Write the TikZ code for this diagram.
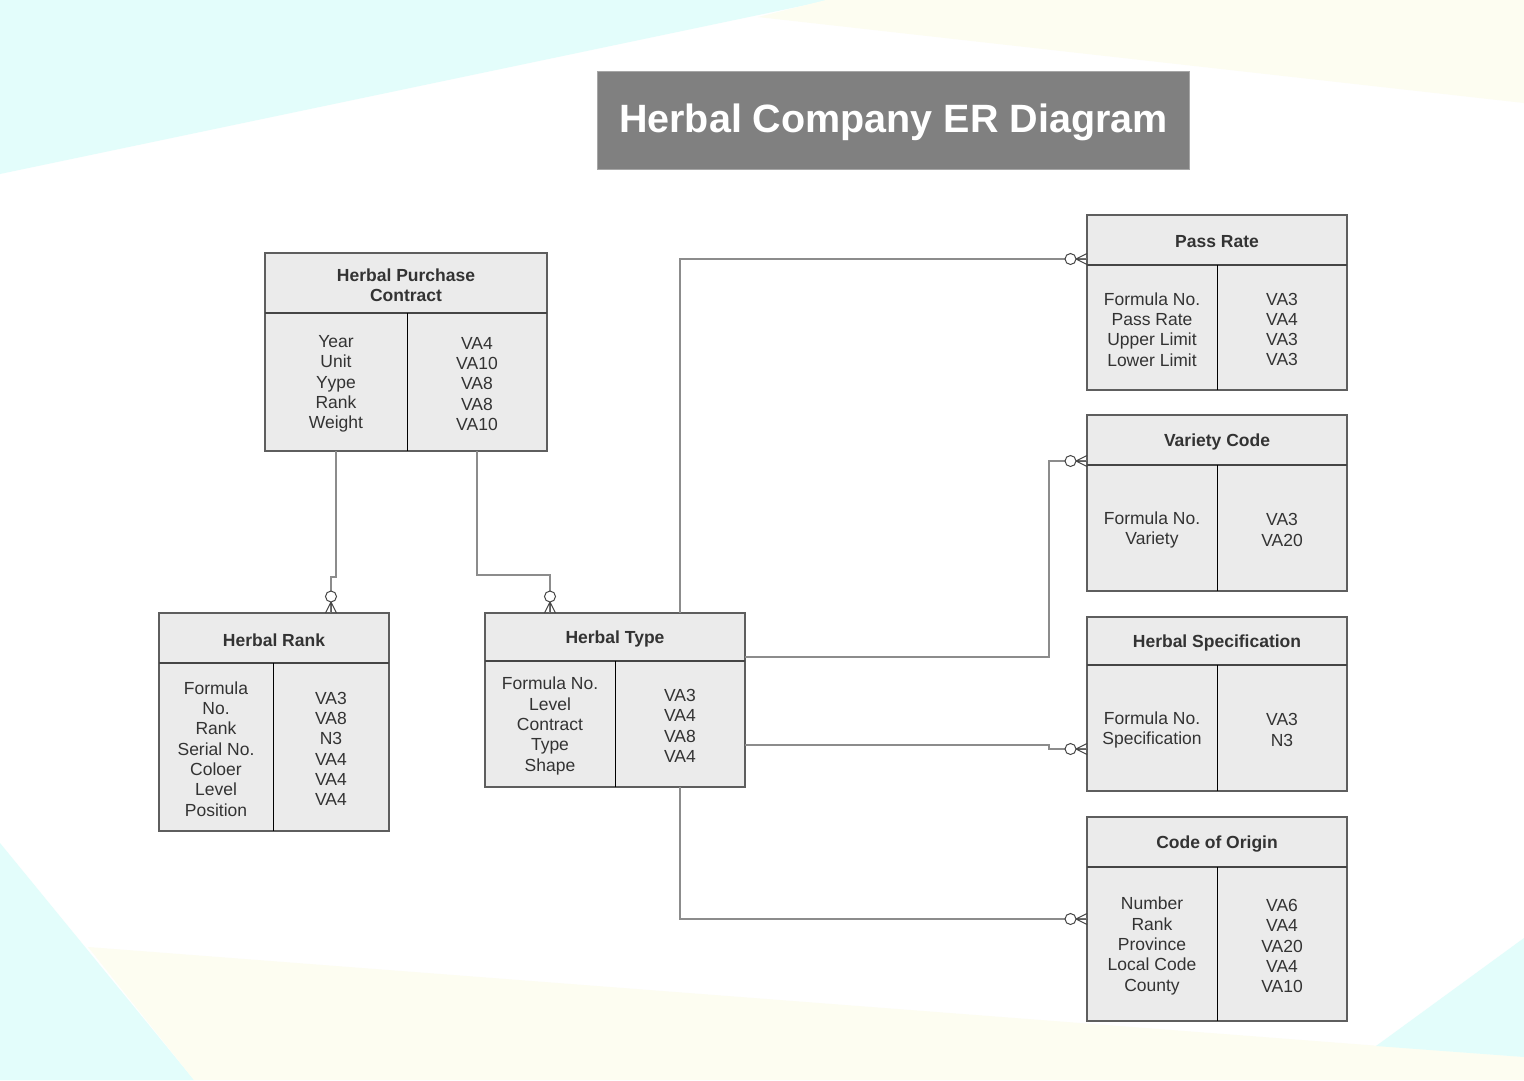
\documentclass[tikz,border=0pt]{standalone}
\usepackage{fontspec}
\setmainfont{Liberation Sans}
\usetikzlibrary{calc}
\definecolor{cyanbg}{HTML}{E3FDFB}
\definecolor{yellowbg}{HTML}{FDFDF1}
\definecolor{boxfill}{HTML}{EBEBEB}
\definecolor{boxline}{HTML}{5E5E5E}
\definecolor{hdrline}{HTML}{454545}
\definecolor{conn}{HTML}{8C8C8C}
\definecolor{txt}{HTML}{333333}
\definecolor{titlebg}{HTML}{808080}
\tikzset{
  cellbox/.style={fill=boxfill, inner sep=0pt, outer sep=0pt, anchor=north west},
  hdrtext/.style={text=txt, align=center, inner sep=0pt, yshift=-2pt, font=\bfseries\fontsize{17.5}{20.3}\selectfont},
  attrtext/.style={text=txt, align=center, inner sep=0pt, yshift=-2pt, font=\fontsize{17.5}{20.3}\selectfont},
  border/.style={draw=boxline, line width=1.4pt},
  hdrdiv/.style={draw=hdrline, line width=2pt},
  coldiv/.style={draw=black, line width=1pt},
  link/.style={draw=conn, line width=1.1pt},
  forkline/.style={draw=hdrline, line width=1pt},
  zeromany/.pic={
    \draw[forkline] (-11,0) -- (0,5.5) (-11,0) -- (0,-5.5) (-11,0) -- (0,0);
    \draw[forkline, fill=white] (-16.5,0) circle (5.5pt);
  }
}
% #1 id, #2 x, #3 y, #4 width, #5 header height, #6 left width, #7 body height, #8 header, #9 {left}{right}
\newcommand\entitybox[9]{%
  \node[cellbox, minimum width=#4, minimum height=#5] (#1) at (#2,#3) {};
  \node[hdrtext] (#1T) at (#1.center) {#8};
  \def\entid{#1}\def\entw{#4}\def\entl{#6}\def\enth{#7}%
  \entitycols#9%
}
\newcommand\entitycols[2]{%
  \node[cellbox, minimum width=\entl, minimum height=\enth] (\entid L) at (\entid.south west) {};
  \node[cellbox, minimum width=\entw-\entl, minimum height=\enth] (\entid R) at (\entid L.north east) {};
  \node[attrtext] (\entid LT) at (\entid L.center) {#1};
  \node[attrtext] (\entid RT) at (\entid R.center) {#2};
  \draw[border] (\entid.north west) rectangle (\entid R.south east);
  \draw[hdrdiv] (\entid.south west) -- (\entid.south east);
  \draw[coldiv] (\entid L.north east) -- (\entid L.south east);
}
\begin{document}
\begin{tikzpicture}[x=1pt, y=-1pt]
\useasboundingbox (0,0) rectangle (1524,1080);
\fill[white] (0,0) rectangle (1524,1080);
% background shapes
\fill[cyanbg] (0,0) -- (830,0) -- (0,174) -- cycle;
\fill[yellowbg] (758,17) -- (826,0) -- (1524,0) -- (1524,103) -- cycle;
\fill[cyanbg] (0,843) -- (194,1080) -- (0,1080) -- cycle;
\fill[yellowbg] (88,947) -- (1524,1057) -- (1524,1080) -- (194,1080) -- cycle;
\fill[cyanbg] (1524,938) -- (1376,1046) -- (1524,1057) -- cycle;

% title
\node[fill=titlebg, draw=gray!70, line width=1pt, minimum width=592, minimum height=98,
      anchor=north west, inner sep=0pt] (title) at (597,71) {};
\node[text=white, font=\bfseries\fontsize{39.5}{44}\selectfont, inner sep=0pt, yshift=-2pt]
      (titleT) at (title.center) {Herbal Company ER Diagram};

% entities
\entitybox{hpc}{265}{253}{282}{60}{142}{138}{Herbal Purchase\\Contract}
  {{Year\\Unit\\Yype\\Rank\\Weight}{VA4\\VA10\\VA8\\VA8\\VA10}}
\entitybox{rank}{159}{613}{230}{50}{114}{168}{Herbal Rank}
  {{Formula\\No.\\Rank\\Serial No.\\Coloer\\Level\\Position}{VA3\\VA8\\N3\\VA4\\VA4\\VA4}}
\entitybox{type}{485}{613}{260}{48}{130}{126}{Herbal Type}
  {{Formula No.\\Level\\Contract\\Type\\Shape}{VA3\\VA4\\VA8\\VA4}}
\entitybox{pass}{1087}{215}{260}{50}{130}{125}{Pass Rate}
  {{Formula No.\\Pass Rate\\Upper Limit\\Lower Limit}{VA3\\VA4\\VA3\\VA3}}
\entitybox{variety}{1087}{415}{260}{50}{130}{126}{Variety Code}
  {{Formula No.\\Variety}{VA3\\VA20}}
\entitybox{spec}{1087}{617}{260}{48}{130}{126}{Herbal Specification}
  {{Formula No.\\Specification}{VA3\\N3}}
\entitybox{origin}{1087}{817}{260}{50}{130}{154}{Code of Origin}
  {{Number\\Rank\\Province\\Local Code\\County}{VA6\\VA4\\VA20\\VA4\\VA10}}

% connectors
\draw[link] (hpcL.south) -- (hpcL.south |- 0,577) -- (rankR.center |- 0,577) -- (rankR.center |- rank.north);
\path (rankR.center |- rank.north) pic[rotate=-90] {zeromany};

\draw[link] (hpcR.south) -- (hpcR.south |- 0,575) -- (typeL.center |- 0,575) -- (typeL.center |- type.north);
\path (typeL.center |- type.north) pic[rotate=-90] {zeromany};

\coordinate (passIn) at ($(pass.north west)+(0,44)$);
\draw[link] (typeR.center |- type.north) |- (passIn);
\path (passIn) pic {zeromany};

\coordinate (typeOut1) at ($(type.south east)+(0,-4)$);
\coordinate (varIn) at ($(variety.south west)+(0,-4)$);
\draw[link] (typeOut1) -- (1049,0 |- typeOut1) -- (1049,0 |- varIn) -- (varIn);
\path (varIn) pic {zeromany};

\coordinate (typeOut2) at ($(typeR.east)+(0,21)$);
\coordinate (specIn) at ($(specL.west)+(0,21)$);
\draw[link] (typeOut2) -- (1049,0 |- typeOut2) -- (1049,0 |- specIn) -- (specIn);
\path (specIn) pic {zeromany};

\coordinate (originIn) at ($(origin.south west)+(0,52)$);
\draw[link] (typeR.center |- typeR.south) |- (originIn);
\path (originIn) pic {zeromany};
\end{tikzpicture}
\end{document}
